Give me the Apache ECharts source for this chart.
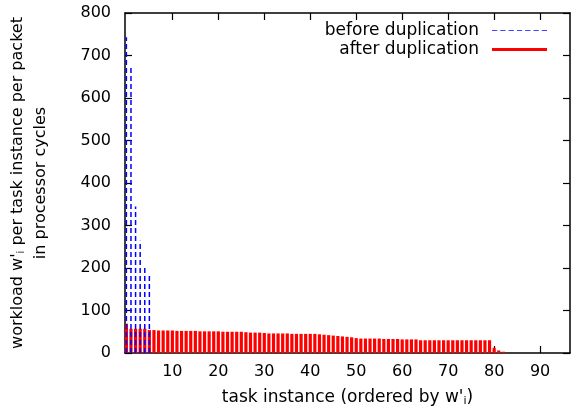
<!DOCTYPE html>
<html>
<head>
<meta charset="utf-8">
<script src="https://cdn.jsdelivr.net/npm/echarts@6/dist/echarts.min.js"></script>
<style>html,body{margin:0;padding:0;background:#fff;}#c{width:582px;height:415px;}</style>
</head>
<body>
<div id="c"></div>
<script>
// ---- data ----
const seriesNames = ['before duplication', 'after duplication'];
const beforeDup = [743, 672, 345, 264, 204, 185];
const afterDup = [
  69, 57, 57, 57, 57,
  54, 54, 53, 53, 53,
  53, 52, 52, 52, 52,
  52, 51, 51, 51, 51,
  51, 50, 50, 50, 50,
  50, 49, 48, 48, 48,
  47, 46, 46, 46, 46,
  46, 45, 45, 45, 45,
  45, 45, 44, 43, 42,
  41, 40, 39, 38, 37,
  35, 34, 34, 34, 34,
  34, 33, 33, 33, 33,
  32, 32, 32, 32, 30,
  30, 30, 30, 30, 30,
  30, 30, 30, 30, 30,
  30, 30, 30, 30, 30,
  12, 6, 3
];
const xTicks = [10, 20, 30, 40, 50, 60, 70, 80, 90];
const yTicks = [0, 100, 200, 300, 400, 500, 600, 700, 800];

const FONT = 'DejaVu Sans';
const chart = echarts.init(document.getElementById('c'), null, {renderer: 'canvas'});

function impulse(color, width, dash) {
  return function (params, api) {
    const x = api.value(0), y = api.value(1);
    const p0 = api.coord([x, 0]);
    const p1 = api.coord([x, y]);
    return {
      type: 'line',
      shape: {x1: p0[0], y1: p0[1], x2: p1[0], y2: p1[1]},
      style: {stroke: color, lineWidth: width, lineDash: dash || null}
    };
  };
}

const axisLineStyle = {color: '#000', width: 1.5};
const dashIcon = 'path://M0,0h5v1h-5z M8,0h5v1h-5z M16,0h5v1h-5z M24,0h5v1h-5z M32,0h5v1h-5z M40,0h5v1h-5z M48,0h5v1h-5z';

const option = {
  animation: false,
  backgroundColor: '#fff',
  grid: {left: 125, right: 12, top: 13, bottom: 62, containLabel: false, outerBoundsMode: 'none'},
  legend: [
    {
      data: [{name: seriesNames[0], icon: dashIcon, itemStyle: {color: '#4444ff'}}],
      right: 35, top: 22, align: 'right', padding: 0,
      itemWidth: 55, itemHeight: 2, selectedMode: false,
      textStyle: {fontFamily: FONT, fontSize: 17, color: '#000', padding: [0, 8, 0, 0]}
    },
    {
      data: [{name: seriesNames[1], icon: 'rect', itemStyle: {color: '#ff0000', borderWidth: 0}}],
      right: 35, top: 41, align: 'right', padding: 0,
      itemWidth: 55, itemHeight: 3, selectedMode: false,
      textStyle: {fontFamily: FONT, fontSize: 17, color: '#000', padding: [0, 8, 0, 0]}
    }
  ],
  xAxis: [
    {
      type: 'value', position: 'bottom', min: -0.3, max: 96.5,
      name: "task instance (ordered by w'{sub|i})",
      nameLocation: 'middle', nameGap: 35,
      nameTextStyle: {fontFamily: FONT, fontSize: 17, color: '#000',
        rich: {sub: {fontFamily: FONT, fontSize: 11, color: '#000', padding: [8, 0, 0, 0]}}},
      axisLine: {show: true, onZero: false, lineStyle: axisLineStyle},
      axisTick: {show: true, inside: true, length: 7, lineStyle: {color: '#000', width: 1.2}, customValues: xTicks},
      axisLabel: {show: true, margin: 11, fontFamily: FONT, fontSize: 16, color: '#000', customValues: xTicks},
      splitLine: {show: false}
    },
    {
      type: 'value', position: 'top', min: -0.3, max: 96.5,
      axisLine: {show: true, onZero: false, lineStyle: axisLineStyle},
      axisTick: {show: true, inside: true, length: 7, lineStyle: {color: '#000', width: 1.2}, customValues: xTicks},
      axisLabel: {show: false},
      splitLine: {show: false}
    }
  ],
  yAxis: [
    {
      type: 'value', position: 'left', min: 0, max: 800, interval: 100,
      name: "workload w'{sub|i} per task instance per packet\nin processor cycles",
      nameLocation: 'middle', nameRotate: 90, nameGap: 73,
      nameTextStyle: {fontFamily: FONT, fontSize: 16, color: '#000', lineHeight: 23,
        rich: {sub: {fontFamily: FONT, fontSize: 10, color: '#000', padding: [8, 0, 0, 0]}}},
      axisLine: {show: true, onZero: false, lineStyle: axisLineStyle},
      axisTick: {show: true, inside: true, length: 7, lineStyle: {color: '#000', width: 1.2}},
      axisLabel: {show: true, margin: 14, fontFamily: FONT, fontSize: 16, color: '#000',
        formatter: function (v) { return yTicks.indexOf(v) >= 0 ? String(v) : ''; }},
      splitLine: {show: false}
    },
    {
      type: 'value', position: 'right', min: 0, max: 800, interval: 100,
      axisLine: {show: true, onZero: false, lineStyle: axisLineStyle},
      axisTick: {show: true, inside: true, length: 7, lineStyle: {color: '#000', width: 1.2}},
      axisLabel: {show: false},
      splitLine: {show: false}
    }
  ],
  series: [
    {
      name: seriesNames[1], type: 'custom', xAxisIndex: 0, yAxisIndex: 0, z: 2,
      itemStyle: {color: '#ff0000'},
      renderItem: impulse('#ff0000', 3.2),
      data: afterDup.map(function (v, i) { return [i, v]; }),
      clip: true
    },
    {
      name: seriesNames[0], type: 'custom', xAxisIndex: 0, yAxisIndex: 0, z: 3,
      itemStyle: {color: '#4444ff'},
      renderItem: impulse('#0000ff', 1.5, [5, 3]),
      data: beforeDup.map(function (v, i) { return [i, v]; }),
      clip: true
    }
  ]
};
chart.setOption(option);
</script>
</body>
</html>
